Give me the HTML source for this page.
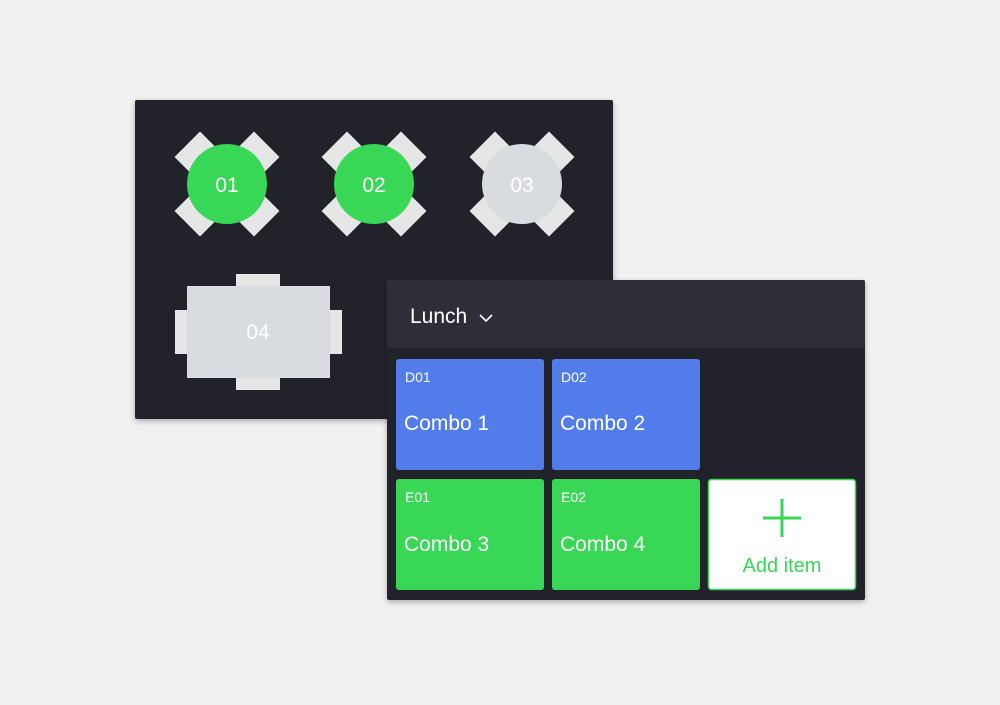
<!DOCTYPE html>
<html><head><style>
body{margin:0;width:1000px;height:700px;background:#f1f1f1;overflow:hidden;font-family:"Liberation Sans",sans-serif}
</style></head><body>
<svg width="1000" height="700" viewBox="0 0 1000 700" xmlns="http://www.w3.org/2000/svg" font-family="Liberation Sans, sans-serif">
<defs>
<filter id="sh" x="-10%" y="-10%" width="120%" height="130%"><feDropShadow dx="0" dy="2" stdDeviation="3" flood-opacity="0.3"/></filter>
<g id="chairs">
<rect x="-18" y="-18" width="36" height="36" transform="translate(-27,-27) rotate(45)" fill="#e6e6e6"/>
<rect x="-18" y="-18" width="36" height="36" transform="translate(27,-27) rotate(45)" fill="#e6e6e6"/>
<rect x="-18" y="-18" width="36" height="36" transform="translate(-27,27) rotate(45)" fill="#e6e6e6"/>
<rect x="-18" y="-18" width="36" height="36" transform="translate(27,27) rotate(45)" fill="#e6e6e6"/>
</g>
</defs>
<rect x="135" y="100" width="478" height="319" rx="2" fill="#222329" filter="url(#sh)"/>
<g transform="translate(227,184)"><use href="#chairs"/><circle r="40" fill="#39d756"/><text y="8" text-anchor="middle" font-size="21" fill="#fff">01</text></g>
<g transform="translate(374,184)"><use href="#chairs"/><circle r="40" fill="#39d756"/><text y="8" text-anchor="middle" font-size="21" fill="#fff">02</text></g>
<g transform="translate(522,184)"><use href="#chairs"/><circle r="40" fill="#d8dce0"/><text y="8" text-anchor="middle" font-size="21" fill="#fff">03</text></g>
<rect x="236" y="274" width="44" height="116" fill="#e6e6e6"/>
<rect x="175" y="310" width="167" height="44" fill="#e6e6e6"/>
<rect x="187" y="286" width="143" height="92" fill="#d8dce0"/>
<text x="258" y="339" text-anchor="middle" font-size="21" fill="#fff">04</text>

<rect x="387" y="280" width="478" height="320" rx="2" fill="#222329" filter="url(#sh)"/>
<rect x="387" y="280" width="478" height="68" rx="2" fill="#2e2f36"/>
<text x="410" y="323" font-size="21" fill="#fff">Lunch</text>
<polyline points="480,315 486,321 492,315" fill="none" stroke="#fff" stroke-width="1.6"/>
<rect x="396" y="359" width="148" height="111" rx="3" fill="#527cea"/>
<rect x="552" y="359" width="148" height="111" rx="3" fill="#527cea"/>
<rect x="396" y="479" width="148" height="111" rx="3" fill="#39d756"/>
<rect x="552" y="479" width="148" height="111" rx="3" fill="#39d756"/>
<rect x="708.5" y="479.5" width="147" height="110" rx="3" fill="#fff" stroke="#39d756" stroke-width="1.5"/>
<g fill="#fff">
<text x="405" y="382" font-size="14">D01</text><text x="404" y="430" font-size="21">Combo 1</text>
<text x="561" y="382" font-size="14">D02</text><text x="560" y="430" font-size="21">Combo 2</text>
<text x="405" y="502" font-size="14">E01</text><text x="404" y="551" font-size="21">Combo 3</text>
<text x="561" y="502" font-size="14">E02</text><text x="560" y="551" font-size="21">Combo 4</text>
</g>
<path d="M782 499V537M763 518H801" stroke="#39d756" stroke-width="3"/>
<text x="782" y="572" text-anchor="middle" font-size="20" fill="#39d756">Add item</text>
</svg>
</body></html>
